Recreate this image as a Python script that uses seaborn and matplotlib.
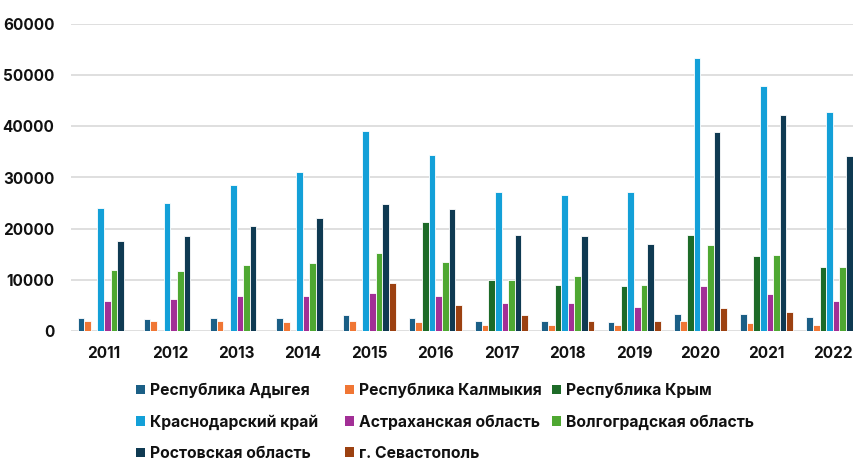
import numpy as np
import pandas as pd
import matplotlib
matplotlib.use("Agg")
import matplotlib.pyplot as plt
import seaborn as sns
from matplotlib.patches import Patch

years = ["2011", "2012", "2013", "2014", "2015", "2016", "2017", "2018", "2019", "2020", "2021", "2022"]
regions = ["Республика Адыгея", "Республика Калмыкия", "Республика Крым", "Краснодарский край",
           "Астраханская область", "Волгоградская область", "Ростовская область", "г. Севастополь"]
nan = np.nan
adygea     = [2500, 2300, 2600, 2600, 3100, 2600, 2000, 2000, 1800, 3400, 3400, 2800]
kalmykia   = [2000, 2000, 2000, 1800, 2000, 1800, 1200, 1200, 1200, 2000, 1500, 1200]
crimea     = [nan, nan, nan, nan, nan, 21300, 9900, 9000, 8700, 18800, 14600, 12600]
krasnodar  = [24000, 25100, 28500, 31000, 39100, 34400, 27100, 26600, 27100, 53400, 47800, 42800]
astrakhan  = [5900, 6200, 6800, 6800, 7400, 6800, 5400, 5400, 4600, 8700, 7300, 5900]
volgograd  = [12000, 11700, 12900, 13200, 15200, 13500, 9900, 10700, 8900, 16800, 14900, 12600]
rostov     = [17600, 18500, 20600, 22100, 24900, 23800, 18800, 18500, 17100, 38900, 42200, 34200]
sevastopol = [nan, nan, nan, nan, 9300, 5100, 3100, 2000, 2000, 4500, 3700, nan]

series = [adygea, kalmykia, crimea, krasnodar, astrakhan, volgograd, rostov, sevastopol]
colors = ["#1b5f86", "#f07634", "#1d6b28", "#13a0d8", "#a22f96", "#4fa832", "#0f3a52", "#9c4111"]

rows = []
for reg, vals in zip(regions, series):
    for y, v in zip(years, vals):
        rows.append({"year": y, "region": reg, "value": v})
df = pd.DataFrame(rows)

sns.set_style("white")
plt.rcParams["font.family"] = ["Inter", "DejaVu Sans"]

W, H = 854, 461
fig = plt.figure(figsize=(W / 100, H / 100), dpi=100)
ax = fig.add_axes([71 / W, (H - 331) / H, 795 / W, 307 / H])

sns.barplot(data=df, x="year", y="value", hue="region", hue_order=regions, order=years,
            palette=colors, saturation=1, width=0.8, edgecolor="white", linewidth=0.6,
            legend=False, ax=ax, errorbar=None)

ax.set_ylim(0, 60000)
ax.set_yticks(range(0, 60001, 10000))
ax.set_xlim(-0.5, len(years) - 0.5)
ax.yaxis.grid(True, color="#d9d9d9", linewidth=1.2)
ax.set_axisbelow(True)
for s in ax.spines.values():
    s.set_visible(False)
ax.set_xlabel("")
ax.set_ylabel("")
ax.tick_params(axis="both", length=0, labelsize=11, labelcolor="#111111")
ax.tick_params(axis="y", pad=12)
ax.tick_params(axis="x", pad=11)
for lab in ax.get_xticklabels() + ax.get_yticklabels():
    lab.set_fontweight("bold")

# legend in three fixed-width columns
col_x = [136, 345, 552]
cols = [[0, 3, 6], [1, 4, 7], [2, 5]]
for cx, idxs in zip(col_x, cols):
    handles = [Patch(facecolor=colors[i], edgecolor="none") for i in idxs]
    labels = [regions[i] for i in idxs]
    leg = fig.legend(handles, labels, loc="upper left", bbox_to_anchor=(cx / W, 1 - 383 / H),
                     frameon=False, borderpad=0, borderaxespad=0, handlelength=0.55,
                     handleheight=0.55, handletextpad=0.35, labelspacing=1.02,
                     prop={"size": 11.3, "weight": "bold"})
    for t in leg.get_texts():
        t.set_color("#111111")

fig.savefig("out.png", dpi=100)
